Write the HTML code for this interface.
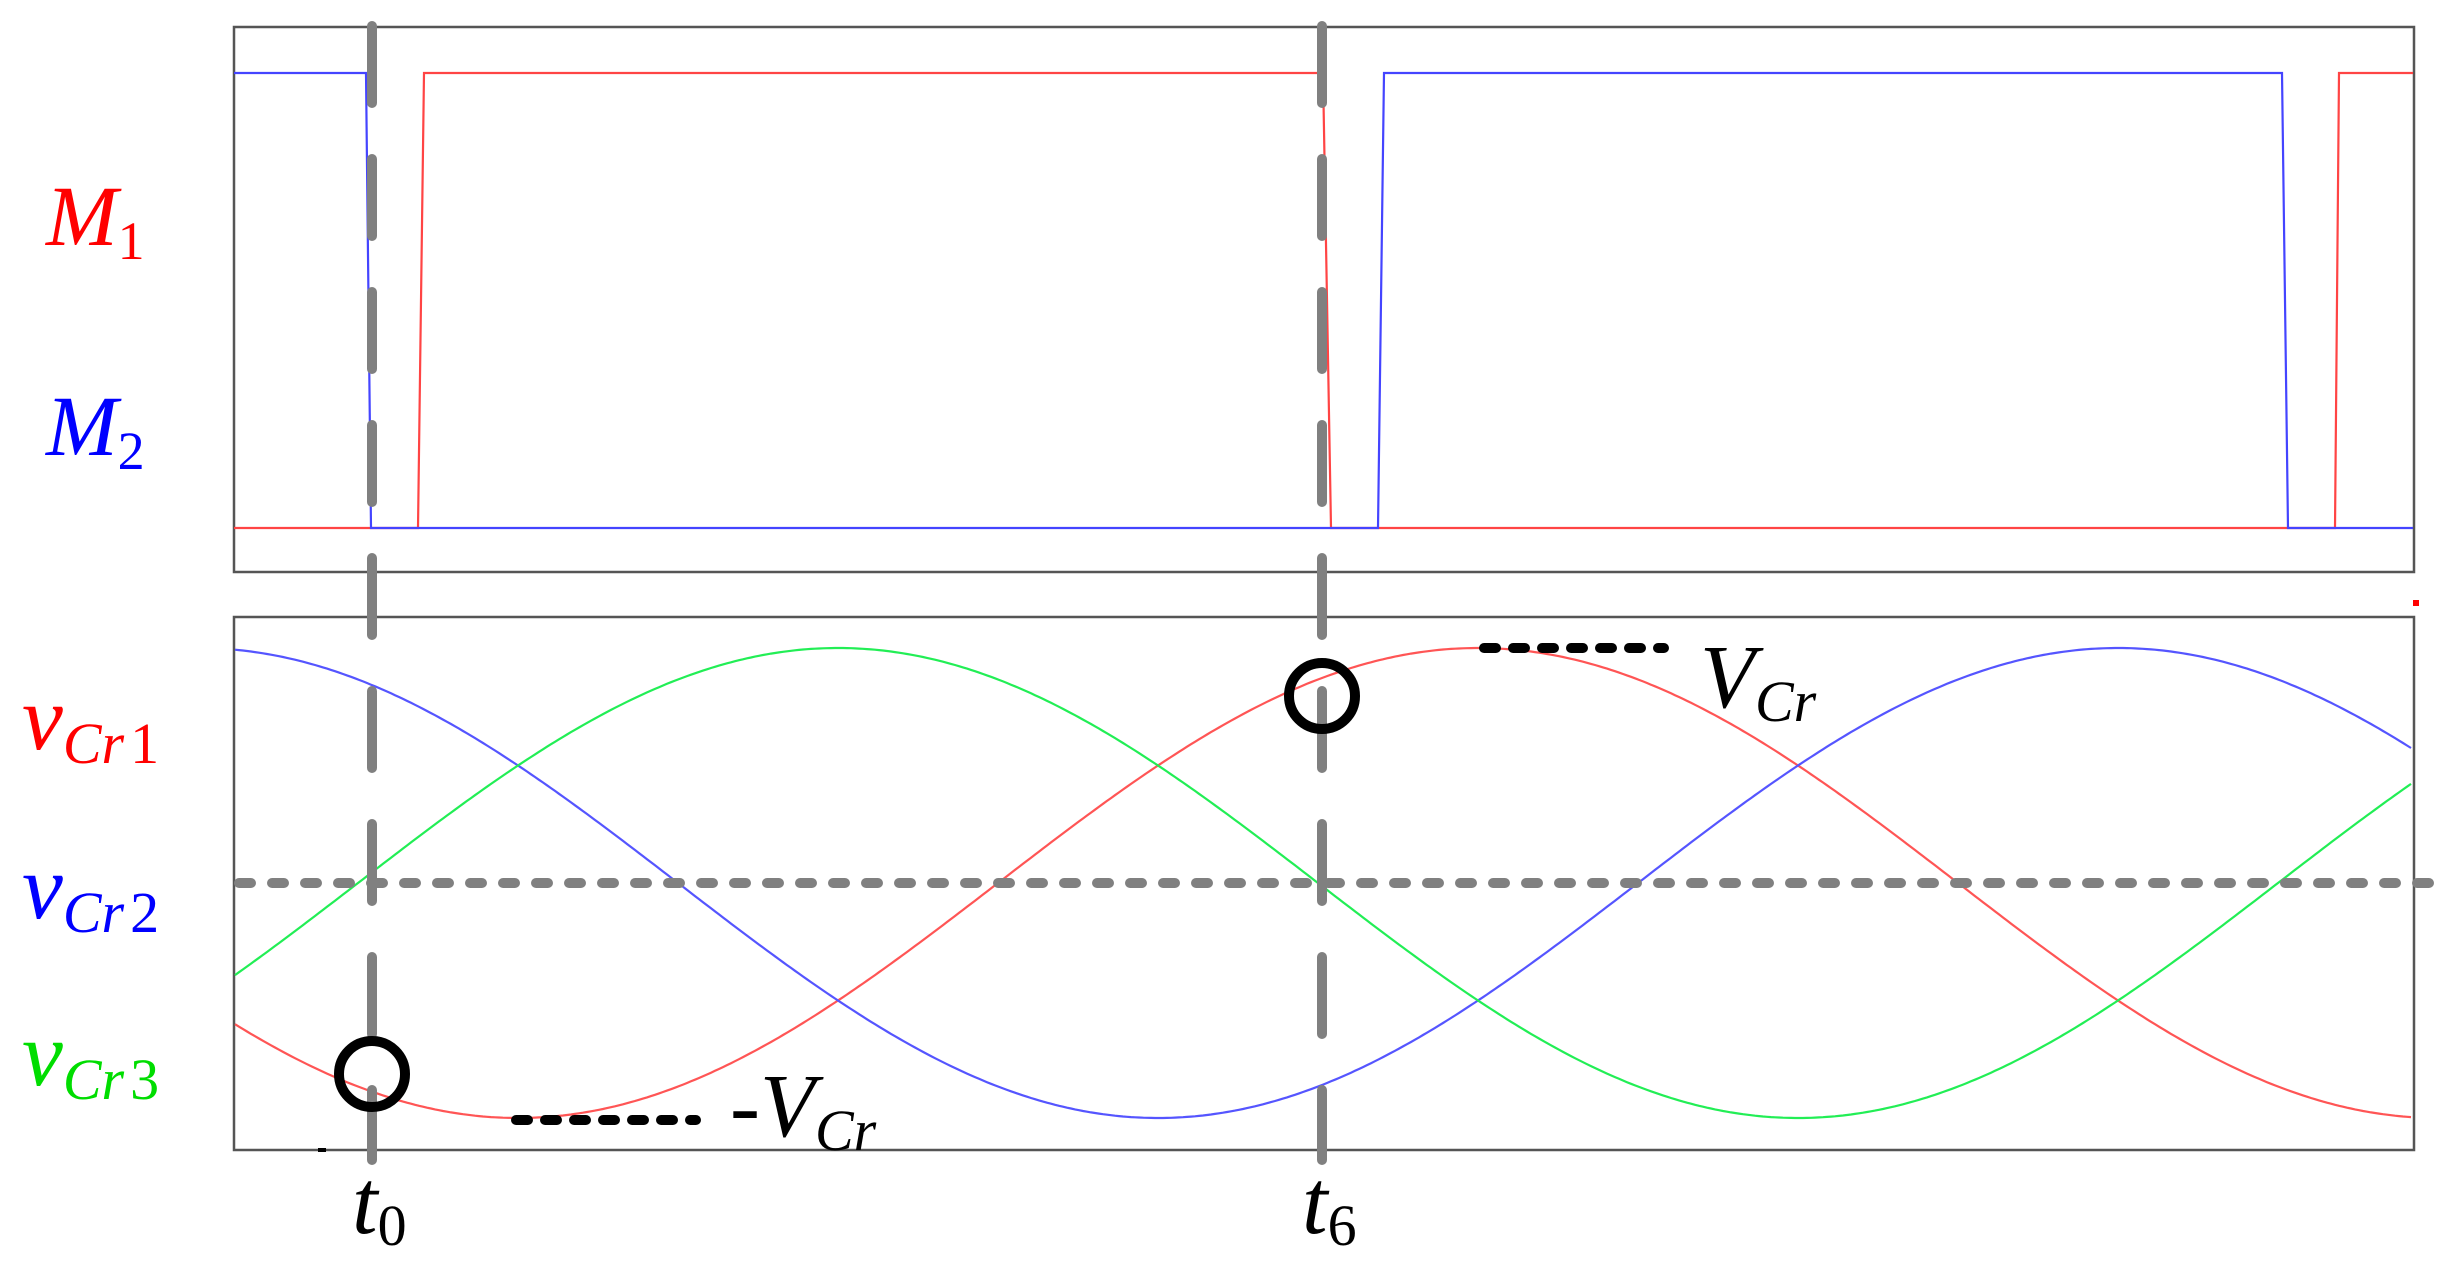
<!DOCTYPE html>
<html><head><meta charset="utf-8"><style>
html,body{margin:0;padding:0;background:#fff;width:2444px;height:1269px;overflow:hidden}
svg{display:block}
svg text, svg tspan{font-family:"Liberation Serif","Times New Roman",Times,serif !important}
</style></head><body>
<svg id="s" width="2444" height="1269" viewBox="0 0 2444 1269" xmlns="http://www.w3.org/2000/svg">
<rect x="234" y="27" width="2180" height="545" fill="none" stroke="#555" stroke-width="2.5"/>
<rect x="234" y="617" width="2180" height="533" fill="none" stroke="#555" stroke-width="2.5"/>
<polyline fill="none" stroke="#f44" stroke-width="2.2" points="234,528 418,528 424,73 1323,73 1331,528 2335,528 2339,73 2413,73"/>
<polyline fill="none" stroke="#44f" stroke-width="2.2" points="234,73 366,73 371,528 1378,528 1384,73 2282,73 2288,528 2413,528"/>
<g id="curves"></g>
<line x1="239" y1="883" x2="2444" y2="883" stroke="#808080" stroke-width="10" stroke-dasharray="12 21" stroke-linecap="round"/>
<line x1="372" y1="26" x2="372" y2="1160" stroke="#808080" stroke-width="10" stroke-dasharray="77 56" stroke-linecap="round"/>
<line x1="1322" y1="26" x2="1322" y2="1160" stroke="#808080" stroke-width="10" stroke-dasharray="77 56" stroke-linecap="round"/>
<circle cx="372" cy="1074" r="33" fill="none" stroke="#000" stroke-width="10"/>
<circle cx="1322" cy="696" r="33" fill="none" stroke="#000" stroke-width="10"/>
<line x1="516" y1="1120" x2="696" y2="1120" stroke="#000" stroke-width="10" stroke-dasharray="12 17" stroke-linecap="round"/>
<line x1="1484" y1="648" x2="1664" y2="648" stroke="#000" stroke-width="10" stroke-dasharray="12 17" stroke-linecap="round"/>
<rect x="2413" y="600" width="6" height="6" fill="#f00"/>
<rect x="318" y="1148" width="8" height="4" fill="#000"/>
<g style="font-family:'Liberation Serif','Times New Roman',serif">
<text x="46" y="245" font-size="86" fill="#f00"><tspan font-style="italic">M</tspan><tspan font-size="54" dy="14">1</tspan></text>
<text x="46" y="455" font-size="86" fill="#00f"><tspan font-style="italic">M</tspan><tspan font-size="54" dy="14">2</tspan></text>
<text x="22" y="749" font-size="92" fill="#f00"><tspan font-style="italic">v</tspan><tspan font-size="58" dy="14" font-style="italic">Cr</tspan><tspan font-size="58" dx="6">1</tspan></text>
<text x="22" y="918" font-size="92" fill="#00f"><tspan font-style="italic">v</tspan><tspan font-size="58" dy="14" font-style="italic">Cr</tspan><tspan font-size="58" dx="6">2</tspan></text>
<text x="22" y="1085" font-size="92" fill="#0d0"><tspan font-style="italic">v</tspan><tspan font-size="58" dy="14" font-style="italic">Cr</tspan><tspan font-size="58" dx="6">3</tspan></text>
<text x="1700" y="707" font-size="90" fill="#000"><tspan font-style="italic">V</tspan><tspan font-size="58" dy="14" font-style="italic">Cr</tspan></text>
<text x="730" y="1136" font-size="90" fill="#000"><tspan font-style="italic">-V</tspan><tspan font-size="58" dy="14" font-style="italic">Cr</tspan></text>
<text x="352" y="1233" font-size="92" fill="#000"><tspan font-style="italic">t</tspan><tspan font-size="58" dy="12">0</tspan></text>
<text x="1302" y="1233" font-size="92" fill="#000"><tspan font-style="italic">t</tspan><tspan font-size="58" dy="12">6</tspan></text>
</g>
</svg>
<script>
(function(){
var g=document.getElementById('curves');
var T=1920,c=883,a=235;
var defs=[[1478,'#f55'],[2118,'#55f'],[838,'#2e5']];
defs.forEach(function(d){
  var pts=[];
  for(var x=235;x<=2413;x+=4){
    var y=c-a*Math.cos(2*Math.PI*(x-d[0])/T);
    pts.push(x+','+y.toFixed(1));
  }
  var p=document.createElementNS('http://www.w3.org/2000/svg','polyline');
  p.setAttribute('points',pts.join(' '));
  p.setAttribute('fill','none');
  p.setAttribute('stroke',d[1]);
  p.setAttribute('stroke-width','2.2');
  g.appendChild(p);
});
})();
</script>
</body></html>
